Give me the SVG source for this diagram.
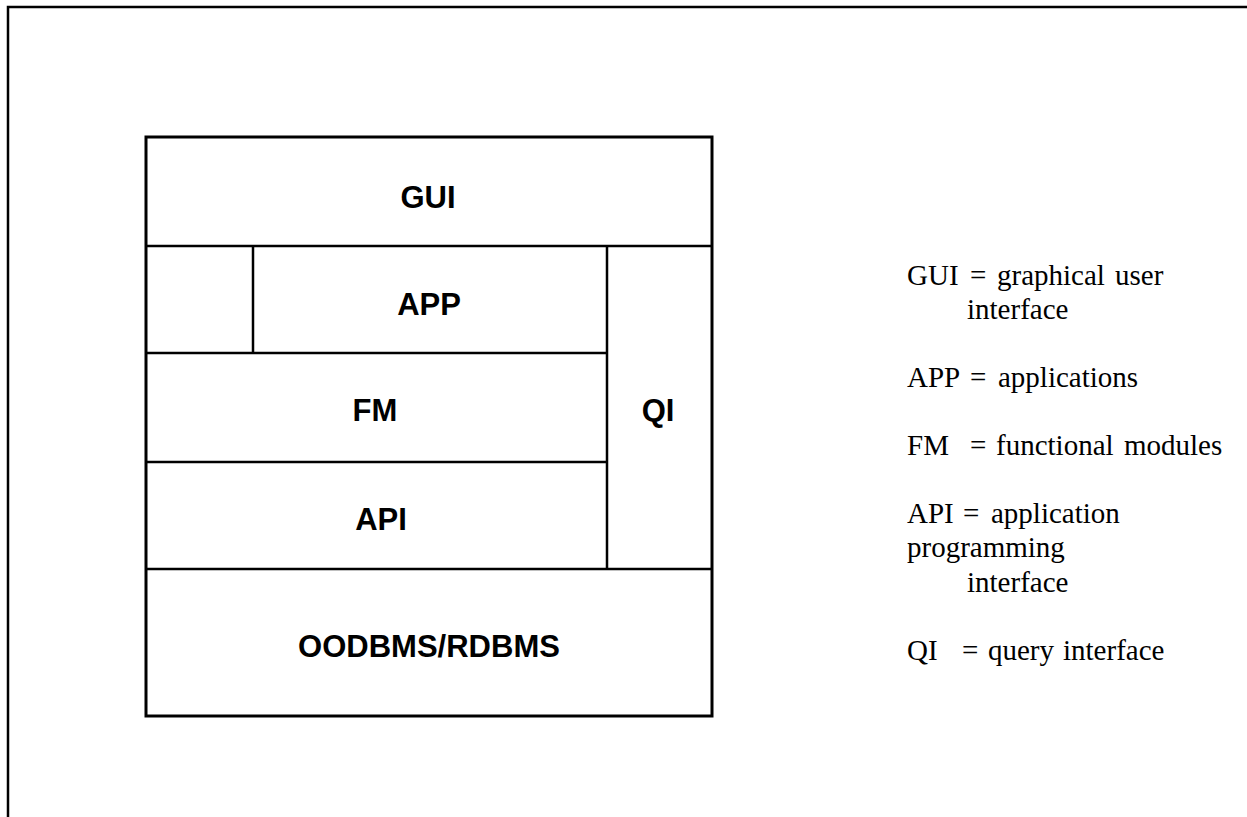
<svg xmlns="http://www.w3.org/2000/svg" width="1247" height="817" viewBox="0 0 1247 817">
  <style>
    .frame { fill: none; stroke: #000; stroke-width: 2.5; }
    .box { fill: none; stroke: #000; stroke-width: 3; }
    .div { fill: none; stroke: #000; stroke-width: 2.5; }
    .lbl { font-family: "Liberation Sans", Arial, sans-serif; font-weight: bold; font-size: 31px; fill: #000; text-anchor: middle; }
    .leg { font-family: "Liberation Serif", "Times New Roman", serif; font-size: 29px; fill: #000; }
  </style>
  <rect width="1247" height="817" fill="#fff"/>

  <!-- page frame (left and top edges) -->
  <path class="frame" d="M8,817 V7 H1247"/>

  <!-- layer separators -->
  <g id="connectors">
    <path class="div" d="M146,246 H712"/>
    <path class="div" d="M253,246 V353"/>
    <path class="div" d="M146,353 H607"/>
    <path class="div" d="M146,462 H607"/>
    <path class="div" d="M607,246 V569"/>
    <path class="div" d="M146,569 H712"/>
  </g>

  <!-- outer stack box -->
  <rect class="box" x="146" y="137" width="566" height="579"/>

  <g id="gui"><text class="lbl" x="428" y="208">GUI</text></g>
  <g id="app"><text class="lbl" x="429" y="315">APP</text></g>
  <g id="fm"><text class="lbl" x="375" y="421">FM</text></g>
  <g id="api"><text class="lbl" x="381" y="530">API</text></g>
  <g id="qi"><text class="lbl" x="658" y="421">QI</text></g>
  <g id="dbms"><text class="lbl" x="429" y="657">OODBMS/RDBMS</text></g>

  <!-- legend -->
  <g id="legend">
    <text class="leg" y="285"><tspan x="907">GUI</tspan><tspan x="970">=</tspan><tspan x="997">graphical</tspan><tspan x="1115">user</tspan></text>
    <text class="leg" x="967" y="319">interface</text>
    <text class="leg" y="387"><tspan x="907">APP</tspan><tspan x="970">=</tspan><tspan x="998">applications</tspan></text>
    <text class="leg" y="455"><tspan x="907">FM</tspan><tspan x="970">=</tspan><tspan x="996">functional</tspan><tspan x="1124">modules</tspan></text>
    <text class="leg" y="523"><tspan x="907">API</tspan><tspan x="963">=</tspan><tspan x="991">application</tspan></text>
    <text class="leg" x="907" y="557">programming</text>
    <text class="leg" x="967" y="592">interface</text>
    <text class="leg" y="660"><tspan x="907">QI</tspan><tspan x="962">=</tspan><tspan x="988">query</tspan><tspan x="1063">interface</tspan></text>
  </g>
</svg>
